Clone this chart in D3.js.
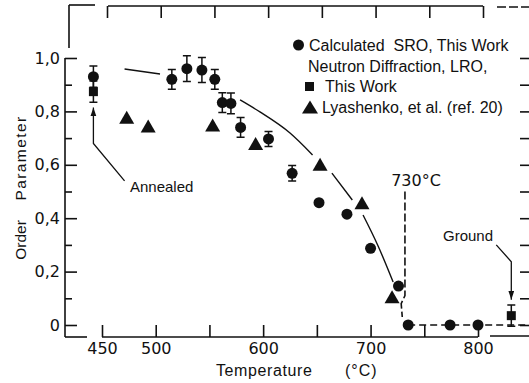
<!DOCTYPE html>
<html>
<head>
<meta charset="utf-8">
<script src="https://cdn.jsdelivr.net/npm/d3@7/dist/d3.min.js"></script>
<style>
    body { margin: 0; background: #fff; }
    svg { display: block; }
    .txt { font-family: "Liberation Sans", Arial, sans-serif; fill: #111; }
    .num { font-family: "DejaVu Sans", sans-serif; fill: #111; }
</style>
</head>
<body>
<div class="js-chart"></div>
<script>
'use strict';

//calculated SRO, this work (circles)
var sroTemp = [442, 515, 529, 543, 555, 562, 570, 579, 605, 627, 652, 678, 700, 726, 735, 774, 800];
var sroValue = [0.93, 0.92, 0.96, 0.955, 0.92, 0.833, 0.83, 0.74, 0.697, 0.568, 0.458, 0.415, 0.287, 0.146, 0, 0, 0];
var sroErr = [0.04, 0.037, 0.048, 0.047, 0.037, 0.037, 0.039, 0.037, 0.028, 0.029, 0, 0, 0, 0, 0, 0, 0];

//neutron diffraction LRO, this work (squares)
var lroTemp = [442, 831];
var lroValue = [0.874, 0.035];
var lroErr = [0.04, 0.04];

//Lyashenko et al. (triangles)
var lyaTemp = [473, 493, 553, 593, 653, 692, 720];
var lyaValue = [0.778, 0.745, 0.749, 0.68, 0.602, 0.458, 0.106];

//hand drawn guide curve, null = gap
var guideTemp = [471, 504, null, 578.5, 597, 625, 646, null, 664, 683, null, 693, 707, 721];
var guideValue = [0.959, 0.94, null, 0.843, 0.798, 0.719, 0.637, null, 0.569, 0.468, null, 0.412, 0.296, 0.161];

//730 C transition marker and zero line
var tcTemp = [732, 732, 728.5, 729.5];
var tcValue = [0.5, 0.11, 0.08, 0.03];
var zeroTemp = [735, 850];

//axis ticks
var xTicks = [450, 500, 550, 600, 650, 700, 750, 800];
var xLabels = [450, 500, 600, 700, 800];
var yMajor = [0, 0.2, 0.4, 0.6, 0.8, 1.0];
var yMinor = [0.1, 0.3, 0.5, 0.7, 0.9];
var yAll = [0, 0.1, 0.2, 0.3, 0.4, 0.5, 0.6, 0.7, 0.8, 0.9, 1.0];

var ink = '#111';
var W = 529, H = 383;
var axisX = 65, axisY = 337;

var x = d3.scaleLinear().domain([450, 800]).range([102, 478]);
var y = d3.scaleLinear().domain([0, 1]).range([325, 58]);

var svg = d3.select('.js-chart').append('svg')
    .attr('width', W)
    .attr('height', H);

svg.append('defs').append('marker')
    .attr('id', 'arrow')
    .attr('markerUnits', 'userSpaceOnUse')
    .attr('markerWidth', 10).attr('markerHeight', 8)
    .attr('refX', 9).attr('refY', 3)
    .attr('orient', 'auto')
    .append('path')
    .attr('d', 'M0,0 L9,3 L0,6 Z')
    .style('fill', ink);

function frameLine(x1, y1, x2, y2, dash) {
    svg.append('line')
        .attr('x1', x1).attr('y1', y1).attr('x2', x2).attr('y2', y2)
        .style('stroke', ink)
        .style('stroke-width', 1.6)
        .style('stroke-dasharray', dash || null);
}

function styleAxis(g, fontSize) {
    g.select('.domain').remove();
    g.attr('color', ink).attr('font-family', null).attr('font-size', null);
    g.selectAll('line').style('stroke-width', 1.6);
    g.selectAll('text').attr('class', 'num').style('font-size', fontSize + 'px');
}

/****
// frame -- broken axes as in the original drawing
****/

//bottom axis
frameLine(axisX, axisY, 87, axisY);
frameLine(102, axisY, 478, axisY);
frameLine(490, axisY - 1, W, axisY - 1);
var gx = svg.append('g').attr('transform', 'translate(0,' + axisY + ')')
    .call(d3.axisBottom(x).tickValues(xTicks).tickSize(-12).tickPadding(6)
        .tickFormat(function (d) { return xLabels.indexOf(d) >= 0 ? d : ''; }));
styleAxis(gx, 16);

//left axis
frameLine(axisX, y(1), axisX, axisY);
var gy = svg.append('g').attr('transform', 'translate(' + axisX + ',0)')
    .call(d3.axisLeft(y).tickValues(yMajor).tickSize(-12).tickPadding(5)
        .tickFormat(function (d) { return d === 0 ? '0' : d3.format('.1f')(d).replace('.', ','); }));
styleAxis(gy, 16);
var gyMinor = svg.append('g').attr('transform', 'translate(' + axisX + ',0)')
    .call(d3.axisLeft(y).tickValues(yMinor).tickSize(-7).tickFormat(''));
styleAxis(gyMinor, 16);

//top frame pieces
frameLine(69, 5, 69, 48);
frameLine(69, 5, 95, 5);
frameLine(108, 6, 483, 6);
frameLine(497, 7, W, 7, '9,3');
var gt = svg.append('g').attr('transform', 'translate(5,6)')
    .call(d3.axisTop(x).tickValues(xTicks).tickSize(-12).tickFormat(''));
styleAxis(gt, 16);

//right side tick stubs
var gr = svg.append('g').attr('transform', 'translate(' + W + ',0)')
    .call(d3.axisRight(y).tickValues(yAll).tickSize(-9).tickFormat(''));
styleAxis(gr, 16);

//axis titles
svg.append('text').attr('class', 'txt')
    .attr('x', 216).attr('y', 376)
    .style('font-size', '16px')
    .style('letter-spacing', '0.6px')
    .text('Temperature');
svg.append('text').attr('class', 'txt')
    .attr('x', 345).attr('y', 376)
    .style('font-size', '16px')
    .style('letter-spacing', '1px')
    .text('(°C)');
svg.append('text').attr('class', 'txt')
    .attr('transform', 'translate(26,158) rotate(-90)')
    .attr('text-anchor', 'middle')
    .style('font-size', '15.5px')
    .style('letter-spacing', '1.4px')
    .text('Parameter');
svg.append('text').attr('class', 'txt')
    .attr('transform', 'translate(26,240) rotate(-90)')
    .attr('text-anchor', 'middle')
    .style('font-size', '15.5px')
    .text('Order');

/****
// guide lines
****/

var guide = guideTemp.map(function (t, i) { return [t, guideValue[i]]; });
svg.append('path')
    .datum(guide)
    .attr('d', d3.line()
        .defined(function (d) { return d[0] !== null; })
        .x(function (d) { return x(d[0]); })
        .y(function (d) { return y(d[1]); })
        .curve(d3.curveMonotoneX))
    .style('fill', 'none')
    .style('stroke', ink)
    .style('stroke-width', 1.4);

svg.append('path')
    .datum(tcTemp.map(function (t, i) { return [t, tcValue[i]]; }))
    .attr('d', d3.line()
        .x(function (d) { return x(d[0]); })
        .y(function (d) { return y(d[1]); }))
    .style('fill', 'none')
    .style('stroke', ink)
    .style('stroke-width', 1.6)
    .style('stroke-dasharray', '8,3');

svg.append('line')
    .attr('x1', x(zeroTemp[0])).attr('x2', x(zeroTemp[1]))
    .attr('y1', y(0)).attr('y2', y(0))
    .style('stroke', ink)
    .style('stroke-width', 1.6)
    .style('stroke-dasharray', '7,4');

/****
// error bars and points
****/

function drawErrors(temps, values, errs) {
    var cap = 4;
    temps.forEach(function (t, i) {
        if (!errs[i]) { return; }
        var cx = x(t), y0 = y(values[i] - errs[i]), y1 = y(values[i] + errs[i]);
        var p = 'M' + cx + ',' + y0 + 'V' + y1 +
            'M' + (cx - cap) + ',' + y0 + 'H' + (cx + cap) +
            'M' + (cx - cap) + ',' + y1 + 'H' + (cx + cap);
        svg.append('path').attr('d', p)
            .style('fill', 'none')
            .style('stroke', ink)
            .style('stroke-width', 1.5);
    });
}
drawErrors(sroTemp, sroValue, sroErr);
drawErrors(lroTemp, lroValue, lroErr);

function trianglePath(cx, cy, w, h) {
    return 'M' + cx + ',' + (cy - h / 2) +
        'L' + (cx + w / 2) + ',' + (cy + h / 2) +
        'L' + (cx - w / 2) + ',' + (cy + h / 2) + 'Z';
}

svg.selectAll('.js-lya').data(lyaTemp).enter().append('path')
    .attr('class', 'js-lya')
    .attr('d', function (d, i) { return trianglePath(x(d), y(lyaValue[i]), 15, 13); })
    .style('fill', ink);

svg.selectAll('.js-lro').data(lroTemp).enter().append('rect')
    .attr('class', 'js-lro')
    .attr('x', function (d) { return x(d) - 4.5; })
    .attr('y', function (d, i) { return y(lroValue[i]) - 4.5; })
    .attr('width', 9).attr('height', 9)
    .style('fill', ink);

svg.selectAll('.js-sro').data(sroTemp).enter().append('circle')
    .attr('class', 'js-sro')
    .attr('cx', function (d) { return x(d); })
    .attr('cy', function (d, i) { return y(sroValue[i]); })
    .attr('r', 5.5)
    .style('fill', ink);

/****
// annotations
****/

function arrowLine(points) {
    svg.append('path')
        .datum(points)
        .attr('d', d3.line()
            .x(function (d) { return x(d[0]); })
            .y(function (d) { return y(d[1]); }))
        .attr('marker-end', 'url(#arrow)')
        .style('fill', 'none')
        .style('stroke', ink)
        .style('stroke-width', 1.3);
}
arrowLine([[471, 0.54], [442, 0.68], [442, 0.815]]);
arrowLine([[817, 0.30], [831, 0.237], [831, 0.095]]);

svg.append('text').attr('class', 'txt')
    .attr('x', 130).attr('y', 192)
    .style('font-size', '15px')
    .text('Annealed');
svg.append('text').attr('class', 'txt')
    .attr('x', 443).attr('y', 241)
    .style('font-size', '15px')
    .text('Ground');
svg.append('text').attr('class', 'num')
    .attr('x', 416).attr('y', 186)
    .attr('text-anchor', 'middle')
    .style('font-size', '16px')
    .text('730°C');

/****
// legend
****/

var legend = svg.append('g');
legend.append('circle').attr('cx', 298.5).attr('cy', 45).attr('r', 5.5).style('fill', ink);
legend.append('rect').attr('x', 305).attr('y', 82).attr('width', 9).attr('height', 9).style('fill', ink);
legend.append('path').attr('d', trianglePath(310, 107, 16, 13)).style('fill', ink);

var legendLines = [
    { x: 309, y: 51, t: 'Calculated  SRO, This Work' },
    { x: 308, y: 71.5, t: 'Neutron Diffraction, LRO,' },
    { x: 325, y: 92, t: 'This Work' },
    { x: 322, y: 112.5, t: 'Lyashenko, et al. (ref. 20)' }
];
legend.selectAll('text').data(legendLines).enter().append('text')
    .attr('class', 'txt')
    .attr('x', function (d) { return d.x; })
    .attr('y', function (d) { return d.y; })
    .attr('xml:space', 'preserve')
    .style('white-space', 'pre')
    .style('font-size', '16px')
    .text(function (d) { return d.t; });
</script>
</body>
</html>
